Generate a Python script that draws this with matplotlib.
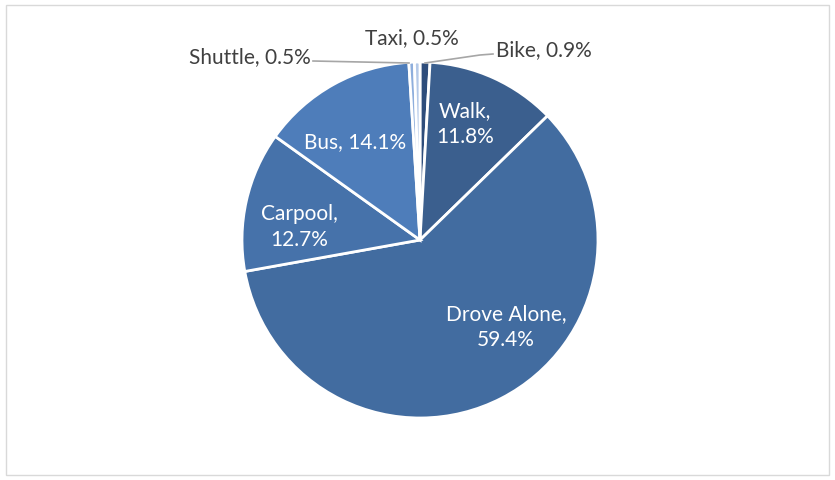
import matplotlib.pyplot as plt
from matplotlib.patches import Rectangle

plt.rcParams['font.family'] = ['Lato', 'DejaVu Sans']

# Data
modes = ["Bike", "Walk", "Drove Alone", "Carpool", "Bus", "Shuttle", "Taxi"]
shares = [0.9, 11.8, 59.4, 12.7, 14.1, 0.5, 0.5]
colors = ["#2e4d7b", "#3b5f8e", "#426ca0", "#4672aa", "#4e7dba", "#8eaedc", "#b4c9e8"]

# label layout (pixel coords, y measured from top)
label_pos = {
    "Bike": (496, 50, "left"),
    "Walk": (465, 124, "center"),
    "Drove Alone": (506, 327, "center"),
    "Carpool": (299, 227, "center"),
    "Bus": (355, 142, "center"),
    "Shuttle": (311, 57, "right"),
    "Taxi": (412, 38, "center"),
}
inside = {"Walk", "Drove Alone", "Carpool", "Bus"}
two_line = {"Walk", "Drove Alone", "Carpool"}

W, H = 835, 481
fig = plt.figure(figsize=(W / 100, H / 100), dpi=100)
ax = fig.add_axes([0, 0, 1, 1])

cx, cy, r = 420, 241, 178
# y axis gets inverted below, so startangle=-90 is 12 o'clock and
# counterclock=True runs clockwise on screen
ax.pie(shares, colors=colors, startangle=-90, counterclock=True,
       center=(cx, cy), radius=r,
       wedgeprops=dict(edgecolor="white", linewidth=2))

ax.set_xlim(0, W)
ax.set_ylim(H, 0)
ax.set_aspect('equal')
ax.axis('off')

# outer border
ax.add_patch(Rectangle((5.5, 5.5), W - 11, H - 11, fill=False, edgecolor="#d9d9d9", lw=1))

for m, v in zip(modes, shares):
    x, y, ha = label_pos[m]
    if m in two_line:
        txt = f"{m},\n{v}%"
    else:
        txt = f"{m}, {v}%"
    col = "white" if m in inside else "#404040"
    ax.text(x, y, txt, ha=ha, va="center", fontsize=15, color=col,
            linespacing=1.33)

# leader lines
ax.plot([313, 409], [62, 64], color="#a6a6a6", lw=1.2)
ax.plot([493, 480, 425], [55, 56, 64], color="#a6a6a6", lw=1.2)

fig.savefig("out.png", dpi=100)
